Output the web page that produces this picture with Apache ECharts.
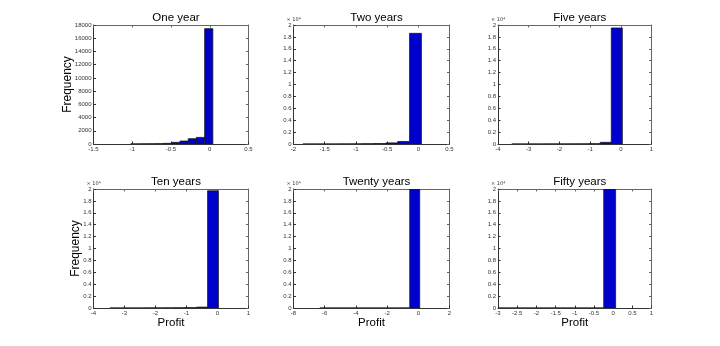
<!DOCTYPE html>
<html>
<head>
<meta charset="utf-8">
<script src="https://cdn.jsdelivr.net/npm/echarts@6/dist/echarts.min.js"></script>
<style>
html,body{margin:0;padding:0;background:#fff;}
#chart{width:720px;height:346px;}
</style>
</head>
<body>
<div id="chart"></div>
<script>
// ---- Data ----
const panelTitles = ['One year', 'Two years', 'Five years', 'Ten years', 'Twenty years', 'Fifty years'];

// Histogram counts (10 equal-width bins, left to right)
const oneYearCounts    = [10, 20, 30, 50, 100, 250, 450, 800, 1000, 17450];
const twoYearCounts    = [2, 3, 5, 10, 20, 40, 70, 180, 420, 18600];
const fiveYearCounts   = [2, 3, 5, 8, 10, 15, 25, 40, 280, 19500];
const tenYearCounts    = [2, 3, 5, 8, 12, 20, 35, 60, 150, 19700];
const twentyYearCounts = [1, 1, 1, 1, 2, 2, 3, 4, 6, 19979];
const fiftyYearCounts  = [1, 1, 1, 1, 1, 2, 2, 3, 5, 19983];

// Bin layout: first bin's lower edge and common bin width (profit units)
const binStart = [-1.02, -1.85, -3.55, -3.47, -6.31, -3.035];
const binWidth = [0.106, 0.19, 0.36, 0.35, 0.64, 0.31];

// Axis ranges and ticks
const xMin      = [-1.5, -2, -4, -4, -8, -3];
const xMax      = [0.5, 0.5, 1, 1, 2, 1];
const xInterval = [0.5, 0.5, 1, 1, 2, 0.5];
const yMax      = [18000, 20000, 20000, 20000, 20000, 20000];
const yInterval = [2000, 2000, 2000, 2000, 2000, 2000];
const yScaled   = [false, true, true, true, true, true]; // labels shown as x10^4

const allCounts = [oneYearCounts, twoYearCounts, fiveYearCounts, tenYearCounts, twentyYearCounts, fiftyYearCounts];

// ---- Layout ----
const colLeft  = [93.5, 293.5, 498];
const colWidth = [155, 156, 153.5];
const rowTop   = [25, 189];
const plotH    = 119;
const FONT = '"Liberation Sans", Arial, Helvetica, sans-serif';

const grids = [], xAxes = [], yAxes = [], series = [], titles = [];
for (let k = 0; k < 6; k++) {
  const r = Math.floor(k / 3), c = k % 3;
  grids.push({left: colLeft[c], top: rowTop[r], width: colWidth[c], height: plotH, containLabel: false});
  titles.push({
    text: panelTitles[k],
    left: colLeft[c] + colWidth[c] / 2,
    top: rowTop[r] - 18,
    textAlign: 'center',
    textStyle: {fontSize: 11.5, fontWeight: 'normal', color: '#000', fontFamily: FONT}
  });
}
// primary axes
for (let k = 0; k < 6; k++) {
  const r = Math.floor(k / 3), c = k % 3;
  xAxes.push({
    type: 'value', gridIndex: k, position: 'bottom',
    min: xMin[k], max: xMax[k], interval: xInterval[k],
    name: r === 1 ? 'Profit' : '', nameLocation: 'middle', nameGap: 9,
    nameTextStyle: {fontSize: 11.5, color: '#000', fontFamily: FONT, verticalAlign: 'top'},
    axisLine: {show: true, onZero: false, lineStyle: {color: '#333', width: 1}},
    axisTick: {show: true, inside: true, length: 2.5, lineStyle: {color: '#333'}},
    axisLabel: {show: true, fontSize: 6, color: '#333', margin: 2, fontFamily: FONT},
    splitLine: {show: false}
  });
  yAxes.push({
    type: 'value', gridIndex: k, position: 'left',
    min: 0, max: yMax[k], interval: yInterval[k],
    name: c === 0 ? 'Frequency' : '', nameLocation: 'middle',
    nameGap: r === 0 ? 20 : 12, nameRotate: 90, nameMoveOverlap: false,
    nameTextStyle: {fontSize: 12, color: '#000', fontFamily: FONT},
    axisLine: {show: true, onZero: false, lineStyle: {color: '#333', width: 1}},
    axisTick: {show: true, inside: true, length: 2.5, lineStyle: {color: '#333'}},
    axisLabel: {
      show: true, fontSize: 6, color: '#333', margin: 2, fontFamily: FONT,
      formatter: yScaled[k] ? (v => String(+(v / 10000).toFixed(1))) : (v => String(v))
    },
    splitLine: {show: false}
  });
}
// mirrored axes (box + inward ticks on top/right)
for (let k = 0; k < 6; k++) {
  xAxes.push({
    type: 'value', gridIndex: k, position: 'top',
    min: xMin[k], max: xMax[k], interval: xInterval[k],
    axisLine: {show: true, onZero: false, lineStyle: {color: '#666', width: 1}},
    axisTick: {show: true, inside: true, length: 2.5, lineStyle: {color: '#666'}},
    axisLabel: {show: false}, splitLine: {show: false}
  });
  yAxes.push({
    type: 'value', gridIndex: k, position: 'right',
    min: 0, max: yMax[k], interval: yInterval[k],
    axisLine: {show: true, onZero: false, lineStyle: {color: '#666', width: 1}},
    axisTick: {show: true, inside: true, length: 2.5, lineStyle: {color: '#666'}},
    axisLabel: {show: false}, splitLine: {show: false}
  });
}
// x10^4 multiplier labels
const graphics = [];
for (let k = 0; k < 6; k++) {
  if (!yScaled[k]) continue;
  const r = Math.floor(k / 3), c = k % 3;
  graphics.push({
    type: 'text', x: colLeft[c] - 7, y: rowTop[r] - 8,
    style: {text: '\u00d7 10\u2074', font: '5px "DejaVu Sans", sans-serif', fill: '#333'}
  });
}
// histogram bars
for (let k = 0; k < 6; k++) {
  const counts = allCounts[k];
  const data = counts.map((v, i) => [binStart[k] + i * binWidth[k], binStart[k] + (i + 1) * binWidth[k], v]);
  series.push({
    type: 'custom', xAxisIndex: k, yAxisIndex: k,
    encode: {x: [0, 1], y: 2},
    data: data,
    clip: true,
    renderItem: function (params, api) {
      const p0 = api.coord([api.value(0), api.value(2)]);
      const p1 = api.coord([api.value(1), 0]);
      return {
        type: 'rect',
        shape: {x: p0[0], y: p0[1], width: p1[0] - p0[0], height: p1[1] - p0[1]},
        style: {fill: '#0000cc', stroke: '#1a1a1a', lineWidth: 0.8}
      };
    }
  });
}

const chart = echarts.init(document.getElementById('chart'), null, {renderer: 'canvas'});
chart.setOption({
  animation: false,
  backgroundColor: '#fff',
  title: titles,
  grid: grids,
  xAxis: xAxes,
  yAxis: yAxes,
  graphic: graphics,
  series: series
});
</script>
</body>
</html>
